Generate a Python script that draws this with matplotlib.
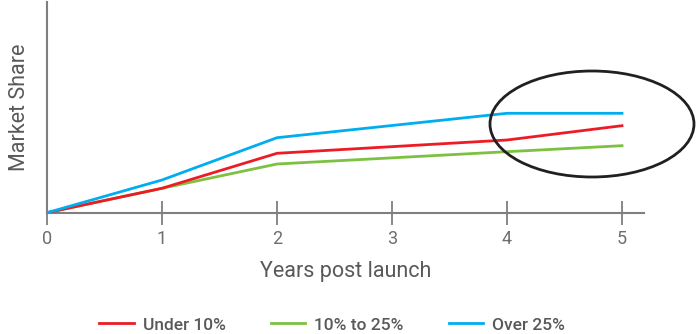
import matplotlib.pyplot as plt
from matplotlib.patches import Ellipse

# Chart values (market share in arbitrary units)
YEARS = [0, 1, 2, 4, 5]
UNDER_10 = [0, 24.4, 59.4, 72.7, 87.0]
TEN_TO_25 = [0, 24.4, 48.7, 61.0, 67.0]
OVER_25 = [0, 32.7, 75.0, 99.4, 99.4]
TICKS = [0, 1, 2, 3, 4, 5]
SERIES_NAMES = ['Under 10%', '10% to 25%', 'Over 25%']

COLOURS = ('#ed1c24', '#7dc142', '#00aeef')
AXIS_GREY = '#7f7f7f'
TEXT_GREY = '#58595b'

plt.rcParams['font.family'] = ['Roboto', 'DejaVu Sans']
plt.rcParams['font.weight'] = 'medium'


def main() -> None:
    fig = plt.figure(figsize=(6.97, 3.34), dpi=100)
    ax = fig.add_axes([47 / 697, 121.3 / 334, 597 / 697, 210.7 / 334])

    for values, colour, name in zip((UNDER_10, TEN_TO_25, OVER_25), COLOURS, SERIES_NAMES):
        ax.plot(YEARS, values, color=colour, lw=2, label=name, solid_joinstyle='round')

    # blue on top, red over green
    ax.lines[0].set_zorder(3)
    ax.lines[2].set_zorder(4)

    ax.set_xlim(0, 5 + 22 / 115)
    ax.set_ylim(0, 210.7)

    # highlight ring round the last years
    ring = Ellipse((4.739, 88.7), 1.774, 106, fill=False, edgecolor='#231f20',
                   lw=2, clip_on=False, zorder=5)
    ax.add_patch(ring)

    for side in ('top', 'right'):
        ax.spines[side].set_visible(False)
    for side in ('left', 'bottom'):
        ax.spines[side].set_color(AXIS_GREY)
        ax.spines[side].set_linewidth(1.5)

    ax.set_xticks(TICKS)
    ax.set_yticks([])
    ax.tick_params(axis='x', direction='inout', length=17, width=1.3,
                   color=AXIS_GREY, labelcolor='#6d6e70', labelsize=13, pad=4)
    for label in ax.get_xticklabels():
        label.set_fontweight('normal')

    ax.set_xlabel('Years post launch', fontsize=15.5, color=TEXT_GREY, labelpad=9)
    ax.set_ylabel('Market Share', fontsize=15.5, color=TEXT_GREY, labelpad=12)

    fig.legend(loc='center', bbox_to_anchor=(332 / 697, 1 - 325 / 334), ncol=3,
               frameon=False, fontsize=12.5, handlelength=2.0, handletextpad=0.5,
               columnspacing=2.6, labelcolor=TEXT_GREY)

    fig.savefig('out.png', dpi=100)


if __name__ == '__main__':
    main()
